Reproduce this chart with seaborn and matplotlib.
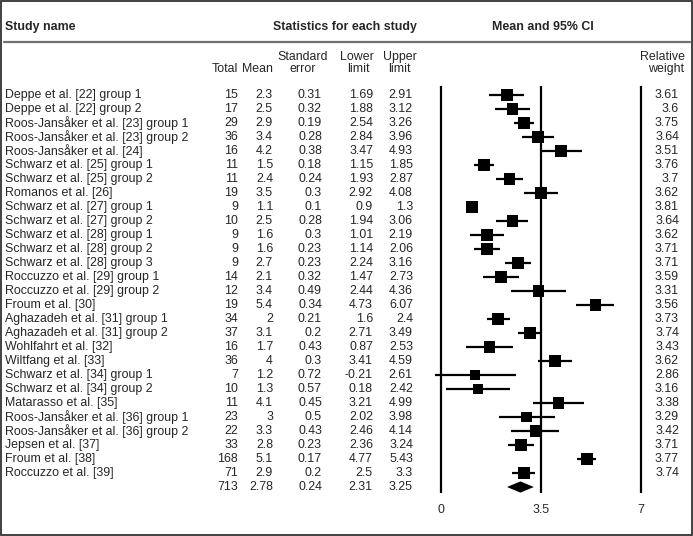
import matplotlib
matplotlib.use("Agg")
import matplotlib.pyplot as plt
from matplotlib.patches import Rectangle
from matplotlib.lines import Line2D
from matplotlib.transforms import blended_transform_factory
import seaborn as sns
import pandas as pd

W, H = 693, 536

studies = [
    "Deppe et al. [22] group 1", "Deppe et al. [22] group 2",
    "Roos-Jansåker et al. [23] group 1", "Roos-Jansåker et al. [23] group 2",
    "Roos-Jansåker et al. [24]", "Schwarz et al. [25] group 1",
    "Schwarz et al. [25] group 2", "Romanos et al. [26]",
    "Schwarz et al. [27] group 1", "Schwarz et al. [27] group 2",
    "Schwarz et al. [28] group 1", "Schwarz et al. [28] group 2",
    "Schwarz et al. [28] group 3", "Roccuzzo et al. [29] group 1",
    "Roccuzzo et al. [29] group 2", "Froum et al. [30]",
    "Aghazadeh et al. [31] group 1", "Aghazadeh et al. [31] group 2",
    "Wohlfahrt et al. [32]", "Wiltfang et al. [33]",
    "Schwarz et al. [34] group 1", "Schwarz et al. [34] group 2",
    "Matarasso et al. [35]", "Roos-Jansåker et al. [36] group 1",
    "Roos-Jansåker et al. [36] group 2", "Jepsen et al. [37]",
    "Froum et al. [38]", "Roccuzzo et al. [39]",
]
total = [15, 17, 29, 36, 16, 11, 11, 19, 9, 10, 9, 9, 9, 14, 12, 19, 34, 37,
         16, 36, 7, 10, 11, 23, 22, 33, 168, 71]
mean = [2.3, 2.5, 2.9, 3.4, 4.2, 1.5, 2.4, 3.5, 1.1, 2.5, 1.6, 1.6, 2.7, 2.1,
        3.4, 5.4, 2, 3.1, 1.7, 4, 1.2, 1.3, 4.1, 3, 3.3, 2.8, 5.1, 2.9]
std_err = [0.31, 0.32, 0.19, 0.28, 0.38, 0.18, 0.24, 0.3, 0.1, 0.28, 0.3, 0.23,
           0.23, 0.32, 0.49, 0.34, 0.21, 0.2, 0.43, 0.3, 0.72, 0.57, 0.45, 0.5,
           0.43, 0.23, 0.17, 0.2]
lower = [1.69, 1.88, 2.54, 2.84, 3.47, 1.15, 1.93, 2.92, 0.9, 1.94, 1.01, 1.14,
         2.24, 1.47, 2.44, 4.73, 1.6, 2.71, 0.87, 3.41, -0.21, 0.18, 3.21, 2.02,
         2.46, 2.36, 4.77, 2.5]
upper = [2.91, 3.12, 3.26, 3.96, 4.93, 1.85, 2.87, 4.08, 1.3, 3.06, 2.19, 2.06,
         3.16, 2.73, 4.36, 6.07, 2.4, 3.49, 2.53, 4.59, 2.61, 2.42, 4.99, 3.98,
         4.14, 3.24, 5.43, 3.3]
weight = [3.61, 3.6, 3.75, 3.64, 3.51, 3.76, 3.7, 3.62, 3.81, 3.64, 3.62, 3.71,
          3.71, 3.59, 3.31, 3.56, 3.73, 3.74, 3.43, 3.62, 2.86, 3.16, 3.38, 3.29,
          3.42, 3.71, 3.77, 3.74]

# pooled estimate
sum_total = 713
sum_mean = 2.78
sum_se = 0.24
sum_lower = 2.31
sum_upper = 3.25

x_ticks = [0, 3.5, 7]

df = pd.DataFrame({"study": studies, "mean": mean, "lower": lower,
                   "upper": upper, "weight": weight})
df["row"] = range(len(df))
sum_row = len(df)

sns.set_theme(style="white")
plt.rcParams["font.family"] = ["Liberation Sans", "DejaVu Sans"]
FS = 8.9

fig = plt.figure(figsize=(W / 100, H / 100), dpi=100)

# forest panel: x=0 at 441 px, x=7 at 641 px; row 0 at y=95, 14 px per row
top_px, bot_px = 80, 500
ax = fig.add_axes([441 / W, 1 - bot_px / H, 200 / W, (bot_px - top_px) / H])
ax.set_xlim(0, 7)
ax.set_ylim((bot_px - 95) / 14, (top_px - 95) / 14)
for s in ax.spines.values():
    s.set_visible(False)
ax.set_xticks(x_ticks)
ax.set_xticklabels([f"{t:g}" for t in x_ticks])
ax.set_yticks([])
ax.tick_params(axis="x", length=0, pad=3, labelsize=FS)

line_top = (86 - 95) / 14
line_bot = (493 - 95) / 14
ax.vlines(x_ticks, line_top, line_bot, color="black", lw=1.6, clip_on=False)

ax.hlines(df["row"], df["lower"], df["upper"], color="black", lw=1.6, clip_on=False)
sns.scatterplot(data=df, x="mean", y="row", size="weight", sizes=(52, 75),
                size_norm=(2.86, 3.81), marker="s", color="black",
                linewidth=0, legend=False, ax=ax, zorder=3, clip_on=False)

half_h = 0.4
ax.fill([sum_lower, sum_mean, sum_upper, sum_mean],
        [sum_row, sum_row - half_h, sum_row, sum_row + half_h],
        color="black", lw=0)
ax.set_xlabel("")
ax.set_ylabel("")

# table text
tr = blended_transform_factory(fig.transFigure, ax.transData)


def col(xpx):
    return xpx / W


for i in range(len(df)):
    ax.text(col(5), i, studies[i], transform=tr, ha="left", va="center", fontsize=FS)
    ax.text(col(238), i, f"{total[i]}", transform=tr, ha="right", va="center", fontsize=FS)
    ax.text(col(273), i, f"{mean[i]:g}", transform=tr, ha="right", va="center", fontsize=FS)
    ax.text(col(322), i, f"{std_err[i]:g}", transform=tr, ha="right", va="center", fontsize=FS)
    ax.text(col(373), i, f"{lower[i]:g}", transform=tr, ha="right", va="center", fontsize=FS)
    ax.text(col(413), i, f"{upper[i]:g}", transform=tr, ha="right", va="center", fontsize=FS)
    ax.text(col(679), i, f"{weight[i]:g}", transform=tr, ha="right", va="center", fontsize=FS)

summary = [(238, sum_total), (273, sum_mean), (322, sum_se),
           (373, sum_lower), (413, sum_upper)]
for xpx, v in summary:
    ax.text(col(xpx), sum_row, f"{v:g}", transform=tr, ha="right", va="center", fontsize=FS)


def ftext(xpx, ypx, s, **kw):
    fig.text(xpx / W, 1 - ypx / H, s, va="center", fontsize=FS, **kw)


ftext(5, 27, "Study name", ha="left", fontweight="bold")
ftext(345, 27, "Statistics for each study", ha="center", fontweight="bold")
ftext(543, 27, "Mean and 95% CI", ha="center", fontweight="bold")

ftext(238, 69, "Total", ha="right")
ftext(273, 69, "Mean", ha="right")
ftext(303, 57, "Standard", ha="center")
ftext(303, 69, "error", ha="center")
ftext(357, 57, "Lower", ha="center")
ftext(358, 69, "limit", ha="center")
ftext(400, 57, "Upper", ha="center")
ftext(399, 69, "limit", ha="center")
ftext(685, 57, "Relative", ha="right")
ftext(684, 69, "weight", ha="right")

# header rule and outer frame
fig.add_artist(Line2D([4 / W, 690 / W], [1 - 42 / H, 1 - 42 / H],
                      transform=fig.transFigure, color="#707070", lw=1.6))
fig.add_artist(Rectangle((0.001, 0.001), 0.997, 0.997, transform=fig.transFigure,
                         fill=False, ec="#333333", lw=1.3))

fig.savefig("out.png", dpi=100)
